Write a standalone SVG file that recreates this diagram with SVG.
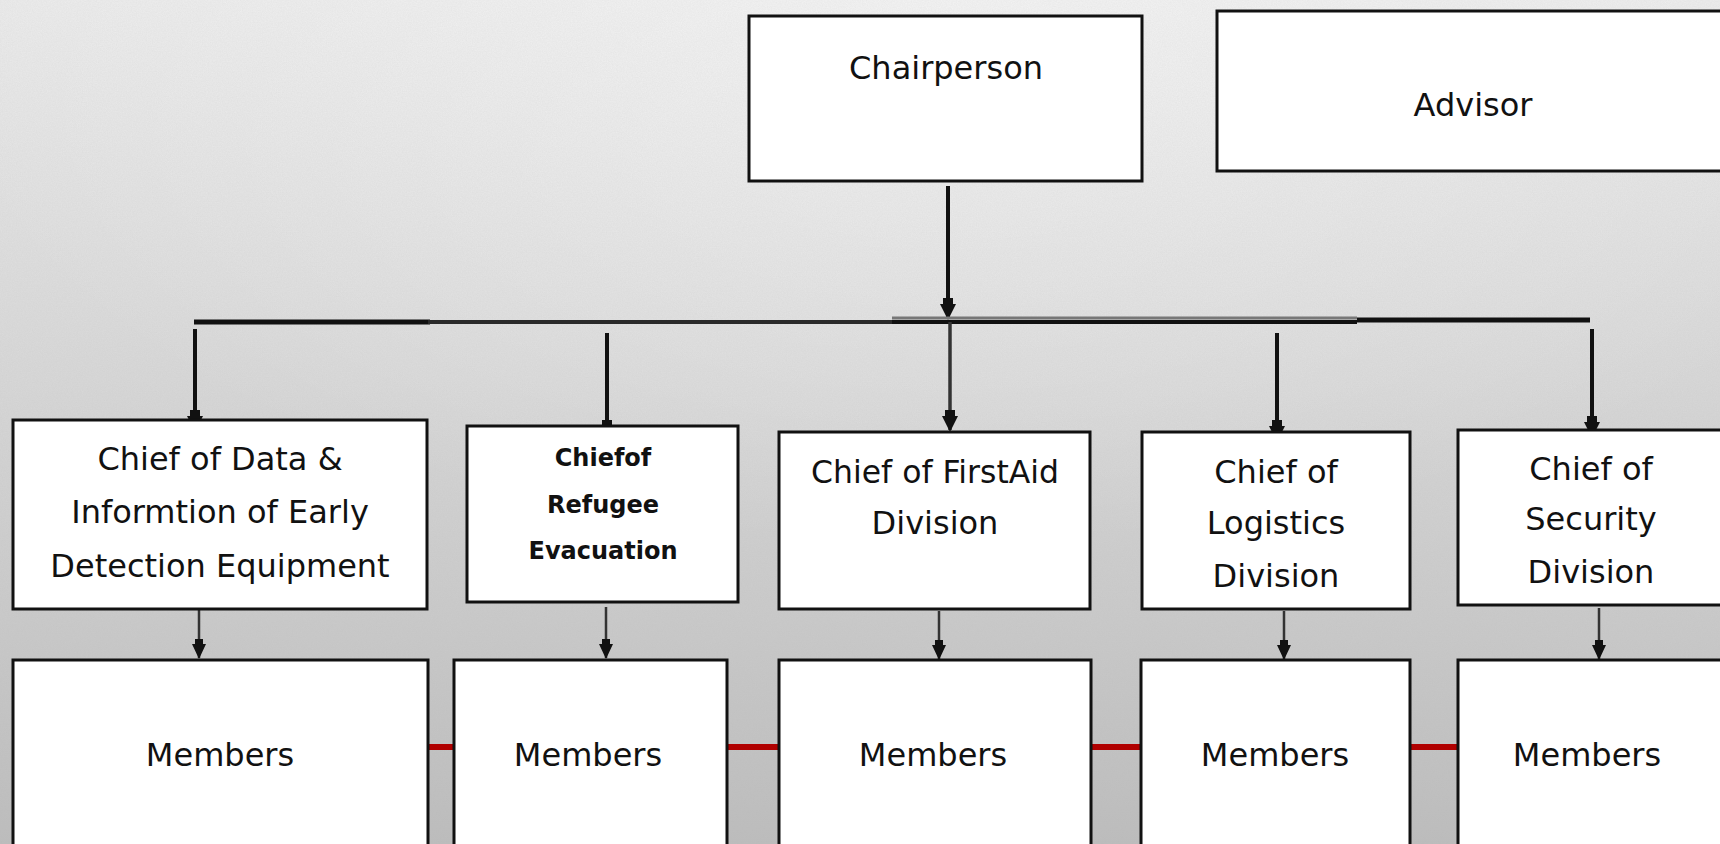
<svg xmlns="http://www.w3.org/2000/svg" width="1720" height="844" viewBox="0 0 1720 844">
<defs>
<linearGradient id="bg" x1="0" y1="0" x2="0" y2="1">
<stop offset="0" stop-color="#ececec"/>
<stop offset="0.45" stop-color="#d8d8d8"/>
<stop offset="1" stop-color="#bdbdbd"/>
</linearGradient>
<radialGradient id="hl" cx="0.55" cy="0.05" r="0.6">
<stop offset="0" stop-color="#ffffff" stop-opacity="0.45"/>
<stop offset="1" stop-color="#ffffff" stop-opacity="0"/>
</radialGradient>
<filter id="noise" x="0" y="0" width="100%" height="100%">
<feTurbulence type="fractalNoise" baseFrequency="0.8" numOctaves="2" seed="3" result="n"/>
<feColorMatrix type="matrix" values="0 0 0 0 0.45  0 0 0 0 0.45  0 0 0 0 0.45  0 0 0 0.35 0"/>
</filter>
<marker id="ah" markerUnits="userSpaceOnUse" markerWidth="22" markerHeight="16" refX="20" refY="8" orient="auto" viewBox="0 0 22 16">
<path d="M6,0 L6,16 L22,8 Z M0,3 L6,3 L6,13 L0,13 Z" fill="#111"/>
</marker>
<marker id="ahs" markerUnits="userSpaceOnUse" markerWidth="20" markerHeight="14" refX="19" refY="7" orient="auto" viewBox="0 0 20 14">
<path d="M5,0 L5,14 L20,7 Z M0,3 L5,3 L5,11 L0,11 Z" fill="#111"/>
</marker>
</defs>
<style>
.box{fill:#ffffff;stroke:#111;stroke-width:3}
.t{font-family:"DejaVu Sans","Liberation Sans",sans-serif;font-size:32px;fill:#111;text-anchor:middle}
.tb{font-family:"DejaVu Sans","Liberation Sans",sans-serif;font-size:24px;font-weight:bold;fill:#111;text-anchor:middle}
.drop{stroke:#111;stroke-width:4;fill:none}
.mdrop{stroke:#333;stroke-width:2.5;fill:none}
.red{stroke:#b00000;stroke-width:6}
</style>
<rect width="1720" height="844" fill="url(#bg)"/>
<rect width="1720" height="844" fill="url(#hl)"/>
<rect width="1720" height="844" filter="url(#noise)" opacity="0.5"/>

<g id="connectors">
<line class="drop" x1="948" y1="186" x2="948" y2="318" marker-end="url(#ah)"/>
<line x1="194" y1="322" x2="430" y2="322" stroke="#111" stroke-width="5"/>
<line x1="428" y1="322" x2="892" y2="322" stroke="#2a2a2a" stroke-width="4"/>
<line x1="892" y1="322" x2="1357" y2="322" stroke="#111" stroke-width="4"/>
<line x1="892" y1="318" x2="1357" y2="318" stroke="#777" stroke-width="3"/>
<line x1="1357" y1="320" x2="1590" y2="320" stroke="#111" stroke-width="5"/>
<line class="drop" x1="195" y1="329" x2="195" y2="430" marker-end="url(#ah)"/>
<line class="drop" x1="607" y1="333" x2="607" y2="440" marker-end="url(#ah)"/>
<line x1="950" y1="322" x2="950" y2="430" stroke="#333" stroke-width="3.5" marker-end="url(#ah)"/>
<line class="drop" x1="1277" y1="333" x2="1277" y2="440" marker-end="url(#ah)"/>
<line class="drop" x1="1592" y1="329" x2="1592" y2="436" marker-end="url(#ah)"/>
<line class="mdrop" x1="199" y1="604" x2="199" y2="658" marker-end="url(#ahs)"/>
<line class="mdrop" x1="606" y1="607" x2="606" y2="658" stroke="#777" marker-end="url(#ahs)"/>
<line class="mdrop" x1="939" y1="611" x2="939" y2="659" stroke="#555" marker-end="url(#ahs)"/>
<line class="mdrop" x1="1284" y1="611" x2="1284" y2="659" stroke="#666" marker-end="url(#ahs)"/>
<line class="mdrop" x1="1599" y1="608" x2="1599" y2="659" stroke="#444" marker-end="url(#ahs)"/>
<line class="red" x1="428" y1="747" x2="454" y2="747"/>
<line class="red" x1="727" y1="747" x2="779" y2="747"/>
<line class="red" x1="1091" y1="747" x2="1141" y2="747"/>
<line class="red" x1="1410" y1="747" x2="1458" y2="747"/>
</g>

<g id="chairperson">
<rect class="box" x="749" y="16" width="393" height="165"/>
<text class="t" x="946" y="79">Chairperson</text>
</g>
<g id="advisor">
<rect class="box" x="1217" y="11" width="512" height="160" stroke-width="4"/>
<text class="t" x="1473" y="116">Advisor</text>
</g>

<g id="chief-data">
<rect class="box" x="13" y="420" width="414" height="189"/>
<text class="t" x="220" y="470">Chief of Data &amp;</text>
<text class="t" x="220" y="523">Informtion of Early</text>
<text class="t" x="220" y="577">Detection Equipment</text>
</g>
<g id="chief-refugee">
<rect class="box" x="467" y="426" width="271" height="176"/>
<text class="tb" x="603" y="466">Chiefof</text>
<text class="tb" x="603" y="513">Refugee</text>
<text class="tb" x="603" y="559">Evacuation</text>
</g>
<g id="chief-firstaid">
<rect class="box" x="779" y="432" width="311" height="177"/>
<text class="t" x="935" y="483" textLength="248" lengthAdjust="spacingAndGlyphs">Chief of FirstAid</text>
<text class="t" x="935" y="534">Division</text>
</g>
<g id="chief-logistics">
<rect class="box" x="1142" y="432" width="268" height="177"/>
<text class="t" x="1276" y="483">Chief of</text>
<text class="t" x="1276" y="534">Logistics</text>
<text class="t" x="1276" y="587">Division</text>
</g>
<g id="chief-security">
<rect class="box" x="1458" y="430" width="270" height="175" stroke-width="4"/>
<text class="t" x="1591" y="480">Chief of</text>
<text class="t" x="1591" y="530">Security</text>
<text class="t" x="1591" y="583">Division</text>
</g>

<g id="members-1">
<rect class="box" x="13" y="660" width="415" height="200"/>
<text class="t" x="220" y="766">Members</text>
</g>
<g id="members-2">
<rect class="box" x="454" y="660" width="273" height="200"/>
<text class="t" x="588" y="766">Members</text>
</g>
<g id="members-3">
<rect class="box" x="779" y="660" width="312" height="200"/>
<text class="t" x="933" y="766">Members</text>
</g>
<g id="members-4">
<rect class="box" x="1141" y="660" width="269" height="200"/>
<text class="t" x="1275" y="766">Members</text>
</g>
<g id="members-5">
<rect class="box" x="1458" y="660" width="270" height="200"/>
<text class="t" x="1587" y="766">Members</text>
</g>
</svg>
